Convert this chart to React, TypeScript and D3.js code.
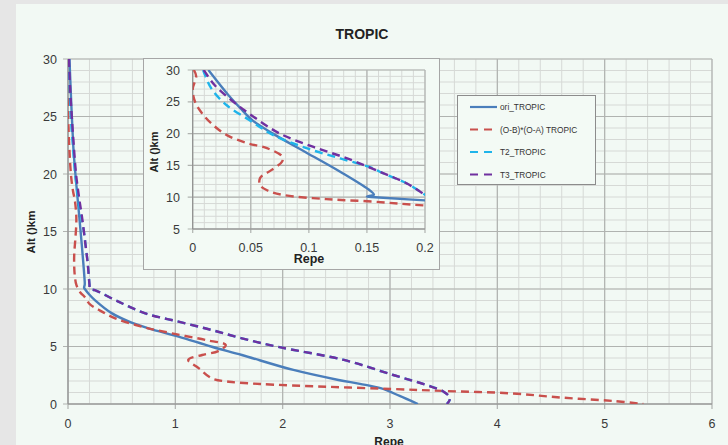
import React from "react";
import * as d3 from "d3";

// ---- data (Repe vs altitude km) ----
const ALT_ORI = [30, 26, 24, 22, 20, 17, 14, 11, 10.4, 10.1, 10, 9.5, 9.04, 7.88, 7.16, 6.58, 5.86, 4.98, 4.26, 2.96, 2.09, 1.75, 1.35, 0.7, 0];
const REPE_ORI = [0.0135, 0.031, 0.041, 0.052, 0.069, 0.098, 0.127, 0.153, 0.156, 0.15, 0.157, 0.2, 0.25, 0.41, 0.57, 0.75, 1.03, 1.34, 1.62, 2.1, 2.52, 2.72, 2.92, 3.09, 3.26];

const ALT_RED = [30, 29, 27, 25, 23.2, 21.6, 19.8, 18.5, 17.7, 16.4, 15.6, 14.3, 13, 11.9, 11.1, 10.35, 9.7, 9.3, 8.7, 8.17, 7.45, 6.72, 6.14, 5.57, 5.13, 4.6, 4.26, 3.83, 3.1, 2.23, 1.94, 1.74, 1.5, 1.3, 1.13, 0.93, 0.55, 0.26, 0];
const REPE_RED = [0.001, 0.003, 0.0, 0.002, 0.008, 0.016, 0.029, 0.047, 0.064, 0.077, 0.077, 0.068, 0.058, 0.058, 0.064, 0.078, 0.115, 0.156, 0.2, 0.29, 0.44, 0.69, 0.97, 1.28, 1.47, 1.4, 1.25, 1.12, 1.22, 1.34, 1.5, 1.79, 2.41, 3.03, 3.52, 4.12, 4.61, 5.08, 5.36];

const ALT_T2 = [30, 29.2, 27.1, 24.5, 22.1, 19.8, 17.7, 16.1, 14.5, 14, 12.2, 10.4, 10, 9.9, 8.9, 7.88, 7.16, 6.43, 5.71, 4.98, 3.83, 2.52, 1.65, 1.07, 0.5, 0];
const REPE_T2 = [0.009, 0.0106, 0.016, 0.029, 0.049, 0.069, 0.098, 0.127, 0.156, 0.161, 0.184, 0.2, 0.205, 0.25, 0.47, 0.72, 1.03, 1.34, 1.62, 1.95, 2.57, 3.03, 3.34, 3.5, 3.56, 3.53];

const ALT_T3 = [30, 29.7, 27.6, 25, 22.7, 20, 17.9, 16.1, 14, 12.2, 10.4, 10, 9.9, 8.9, 7.88, 7.16, 6.43, 5.71, 4.98, 3.83, 2.52, 1.65, 1.07, 0.5, 0];
const REPE_T3 = [0.0095, 0.0106, 0.019, 0.035, 0.052, 0.075, 0.104, 0.133, 0.161, 0.184, 0.2, 0.205, 0.25, 0.47, 0.72, 1.03, 1.34, 1.62, 1.95, 2.57, 3.03, 3.34, 3.5, 3.56, 3.53];

const SERIES_NAMES = ["ori_TROPIC", "(O-B)*(O-A) TROPIC", "T2_TROPIC", "T3_TROPIC"];
const X_TICKS = [0, 1, 2, 3, 4, 5, 6];
const Y_TICKS = [0, 5, 10, 15, 20, 25, 30];
const IX_TICKS = [0, 0.05, 0.1, 0.15, 0.2];
const IX_LABELS = ["0", "0.05", "0.1", "0.15", "0.2"];
const IY_TICKS = [5, 10, 15, 20, 25, 30];

const COLORS = ["#4a7ebb", "#c9504d", "#1fb4ea", "#7030a0"];
const DASHES = [null, "8,5", "8,5", "8,5"];

const FONT = "'Liberation Sans', Arial, sans-serif";

function zip(xs: number[], ys: number[]): [number, number][] {
  return xs.map((v, i) => [v, ys[i]]);
}

export default function App() {
  const W = 728, H = 445;
  const x = d3.scaleLinear([0, 6], [68, 712]);
  const y = d3.scaleLinear([0, 30], [404, 59]);
  const ix = d3.scaleLinear([0, 0.2], [192.7, 425]);
  const iy = d3.scaleLinear([5, 30], [229, 70]);

  const series = [
    zip(REPE_ORI, ALT_ORI),
    zip(REPE_RED, ALT_RED),
    zip(REPE_T2, ALT_T2),
    zip(REPE_T3, ALT_T3),
  ];

  const mainLine = d3.line<[number, number]>().x(d => x(d[0])).y(d => y(d[1])).curve(d3.curveCatmullRom.alpha(0.5));
  const insetLine = d3.line<[number, number]>().x(d => ix(d[0])).y(d => iy(d[1])).curve(d3.curveCatmullRom.alpha(0.5));

  const minorX = d3.range(0, 6.0001, 0.2);
  const minorY = d3.range(0, 30.0001, 1);
  const iminorX = d3.range(0, 0.20001, 0.01);
  const iminorY = d3.range(5, 30.0001, 1);

  const minorC = "#d6d9d6";
  const majorC = "#b0b3b0";
  const axisC = "#8c8c8c";
  const textC = "#3a3a3a";

  return (
    <svg width={W} height={H} style={{ position: "absolute", left: 0, top: 0 }} fontFamily={FONT}>
      <defs>
        <clipPath id="mainClip">
          <rect x={x(0)} y={y(30)} width={x(6) - x(0)} height={y(0) - y(30)} />
        </clipPath>
        <clipPath id="insetClip">
          <rect x={ix(0)} y={iy(30)} width={ix(0.2) - ix(0)} height={iy(5) - iy(30)} />
        </clipPath>
      </defs>
      <rect x={0} y={0} width={W} height={H} fill="#e6e6e6" />
      <rect x={16} y={4} width={W - 16} height={H - 4} fill="#f2f9f4" />

      {/* main grid */}
      {minorX.map((v, i) => (
        <line key={"mx" + i} x1={x(v)} x2={x(v)} y1={y(30)} y2={y(0)} stroke={minorC} strokeWidth={1} />
      ))}
      {minorY.map((v, i) => (
        <line key={"my" + i} x1={x(0)} x2={x(6)} y1={y(v)} y2={y(v)} stroke={minorC} strokeWidth={1} />
      ))}
      {X_TICKS.map(v => (
        <line key={"Mx" + v} x1={x(v)} x2={x(v)} y1={y(30)} y2={y(0) + 5} stroke={majorC} strokeWidth={1.2} />
      ))}
      {Y_TICKS.map(v => (
        <line key={"My" + v} x1={x(0) - 5} x2={x(6)} y1={y(v)} y2={y(v)} stroke={majorC} strokeWidth={1.2} />
      ))}
      <line x1={x(0)} x2={x(0)} y1={y(30)} y2={y(0)} stroke={axisC} strokeWidth={1} />
      <line x1={x(0)} x2={x(6)} y1={y(0)} y2={y(0)} stroke={axisC} strokeWidth={1} />

      {/* main tick labels */}
      {X_TICKS.map(v => (
        <text key={"xl" + v} x={x(v)} y={428} textAnchor="middle" fontSize={12.5} fill={textC}>{v}</text>
      ))}
      {Y_TICKS.map(v => (
        <text key={"yl" + v} x={57} y={y(v) + 4.5} textAnchor="end" fontSize={12.5} fill={textC}>{v}</text>
      ))}

      {/* main lines */}
      <g clipPath="url(#mainClip)">
        {series.map((s, i) => (
          <path key={"ml" + i} d={mainLine(s) || ""} fill="none" stroke={COLORS[i]} strokeWidth={2.4}
            strokeDasharray={DASHES[i] || undefined} />
        ))}
      </g>

      {/* titles */}
      <text x={362} y={39} textAnchor="middle" fontSize={14} fontWeight="bold" fill="#222">TROPIC</text>
      <text x={389} y={446} textAnchor="middle" fontSize={12} fontWeight="bold" fill="#222">Repe</text>
      <text transform="translate(35,232) rotate(-90)" textAnchor="middle" fontSize={11.5} fontWeight="bold" fill="#222">Alt ()km</text>

      {/* inset */}
      <rect x={143.5} y={58.5} width={296} height={211} fill="#f3faf5" stroke="#a6a6a6" strokeWidth={1} />
      {iminorX.map((v, i) => (
        <line key={"imx" + i} x1={ix(v)} x2={ix(v)} y1={iy(30)} y2={iy(5)} stroke={minorC} strokeWidth={1} />
      ))}
      {iminorY.map((v, i) => (
        <line key={"imy" + i} x1={ix(0)} x2={ix(0.2)} y1={iy(v)} y2={iy(v)} stroke={minorC} strokeWidth={1} />
      ))}
      {IX_TICKS.map((v, i) => (
        <line key={"iMx" + i} x1={ix(v)} x2={ix(v)} y1={iy(30)} y2={iy(5) + 4} stroke={majorC} strokeWidth={1.2} />
      ))}
      {IY_TICKS.map(v => (
        <line key={"iMy" + v} x1={ix(0) - 5} x2={ix(0.2)} y1={iy(v)} y2={iy(v)} stroke={majorC} strokeWidth={1.2} />
      ))}
      <line x1={ix(0)} x2={ix(0)} y1={iy(30)} y2={iy(5)} stroke={axisC} strokeWidth={1} />
      <line x1={ix(0)} x2={ix(0.2)} y1={iy(5)} y2={iy(5)} stroke={axisC} strokeWidth={1} />
      {IX_TICKS.map((v, i) => (
        <text key={"ixl" + i} x={ix(v)} y={252} textAnchor="middle" fontSize={12.5} fill={textC}>{IX_LABELS[i]}</text>
      ))}
      {IY_TICKS.map(v => (
        <text key={"iyl" + v} x={180} y={iy(v) + 4.5} textAnchor="end" fontSize={12.5} fill={textC}>{v}</text>
      ))}
      <g clipPath="url(#insetClip)">
        {series.map((s, i) => (
          <path key={"il" + i} d={insetLine(s) || ""} fill="none" stroke={COLORS[i]} strokeWidth={2.4}
            strokeDasharray={DASHES[i] || undefined} />
        ))}
      </g>
      <text x={309} y={263} textAnchor="middle" fontSize={12.5} fontWeight="bold" fill="#222">Repe</text>
      <text transform="translate(158,152) rotate(-90)" textAnchor="middle" fontSize={11} fontWeight="bold" fill="#222">Alt ()km</text>

      {/* legend */}
      <rect x={457.5} y={95.5} width={138} height={89} fill="#f3faf5" stroke="#8c8c8c" strokeWidth={1} />
      {SERIES_NAMES.map((name, i) => {
        const ly = 107 + i * 22.5;
        return (
          <g key={"lg" + i}>
            <line x1={470} x2={497} y1={ly} y2={ly} stroke={COLORS[i]} strokeWidth={2.2}
              strokeDasharray={DASHES[i] ? "8,6" : undefined} />
            <text x={500} y={ly + 3} fontSize={8.3} fill="#333">{name}</text>
          </g>
        );
      })}
    </svg>
  );
}
